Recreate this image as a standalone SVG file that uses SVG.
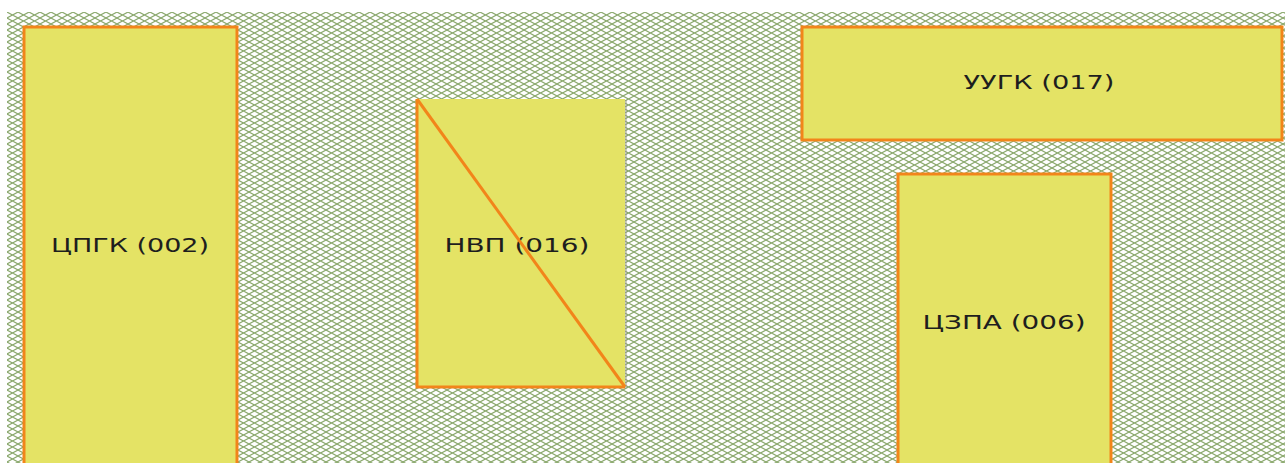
<svg xmlns="http://www.w3.org/2000/svg" width="1285" height="463" viewBox="0 0 1285 463">
<style>
.box{fill:#e4e365;stroke:#f2851a;stroke-width:3}
.lbl{font-family:"DejaVu Sans","Noto Sans",sans-serif;font-size:19px;fill:#1e1e1e;text-anchor:middle;dominant-baseline:central}
</style>
<defs>
<pattern id="hatch" x="7" y="12" width="11" height="6" patternUnits="userSpaceOnUse">
<rect width="11" height="6" fill="#ffffff"/>
<path d="M0,0 L11,6 M0,6 L11,0" stroke="#8aa86c" stroke-width="1.1" fill="none"/>
</pattern>
</defs>
<rect width="1285" height="463" fill="#ffffff"/>
<rect x="7" y="12" width="1278" height="451" fill="url(#hatch)"/>
<g id="cpgk">
<rect class="box" x="24" y="27" width="213" height="440"/>
<text class="lbl" x="130" y="245" textLength="158" lengthAdjust="spacingAndGlyphs">ЦПГК (002)</text>
</g>
<g id="nvp">
<rect x="419" y="100" width="208" height="288" fill="#9a9a8a" opacity="0.5"/>
<rect x="417" y="99" width="208" height="288" fill="#e4e365"/>
<path d="M417,99 L417,387 L625,387" fill="none" stroke="#f2851a" stroke-width="3"/>
<text class="lbl" x="517" y="245" textLength="145" lengthAdjust="spacingAndGlyphs">НВП (016)</text>
</g>
<g id="uugk">
<rect class="box" x="802" y="27" width="480" height="113"/>
<text class="lbl" x="1039" y="82" textLength="151" lengthAdjust="spacingAndGlyphs">УУГК (017)</text>
</g>
<g id="czpa">
<rect class="box" x="898" y="174" width="213" height="293"/>
<text class="lbl" x="1004" y="322" textLength="163" lengthAdjust="spacingAndGlyphs">ЦЗПА (006)</text>
</g>
<g id="connectors">
<line x1="417" y1="99" x2="625" y2="387" stroke="#f2851a" stroke-width="3"/>
</g>
</svg>
